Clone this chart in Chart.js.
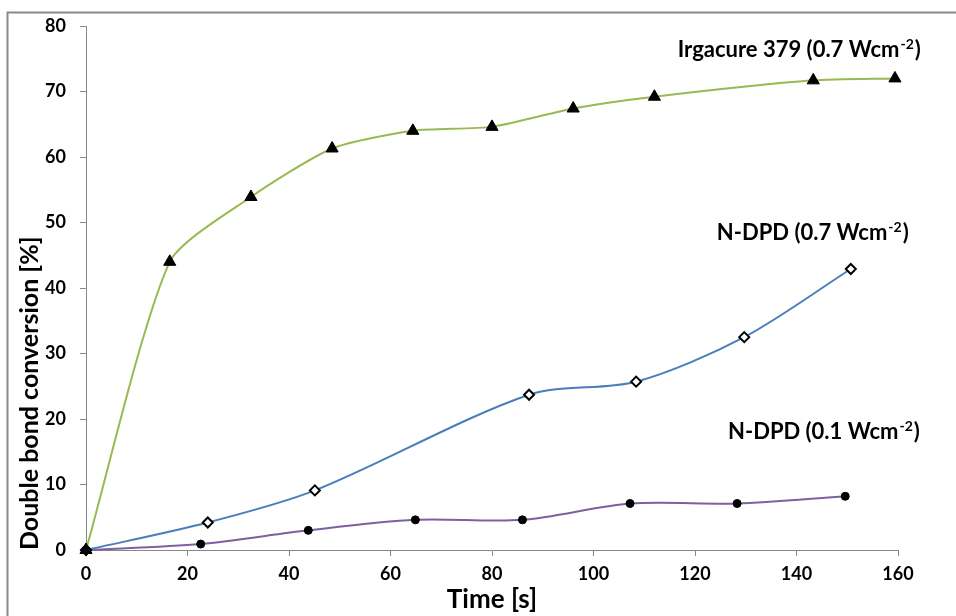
<!DOCTYPE html>
<html><head><meta charset="utf-8">
<script src="https://cdn.jsdelivr.net/npm/chart.js@4.4.1/dist/chart.umd.min.js"></script>
<style>html,body{margin:0;padding:0;background:#fff;}canvas{display:block;}</style>
</head><body>
<canvas id="c" width="956" height="616"></canvas>
<script>
// ---- data ----
const irgTime   = [0, 16.5, 32.5, 48.5, 64.4, 80, 96, 112, 143.3, 159.4];
const irgConv   = [0, 44.0, 53.9, 61.3, 64.0, 64.6, 67.4, 69.2, 71.7, 72.0];
const dpd07Time = [0, 24.0, 45.1, 87.3, 108.4, 129.7, 150.7];
const dpd07Conv = [0, 4.2, 9.1, 23.7, 25.7, 32.5, 42.9];
const dpd01Time = [0, 22.6, 43.8, 64.9, 86.0, 107.2, 128.3, 149.6];
const dpd01Conv = [0, 0.9, 3.0, 4.6, 4.6, 7.1, 7.1, 8.2];
const seriesNames = ['Irgacure 379 (0.7 Wcm', 'N-DPD (0.7 Wcm', 'N-DPD (0.1 Wcm'];
const unitSup = '-2';
const xTitle = 'Time [s]';
const yTitle = 'Double bond conversion [%]';
const xRange = [0, 160], xStep = 20;
const yRange = [0, 80], yStep = 10;

const pts = (xs, ys) => xs.map((x, i) => ({x, y: ys[i]}));
const FONT = 'Lato, "Open Sans", sans-serif';

// label anchors (data coordinates) for the in-plot series labels
const labelAnchors = [[116.6, 75.3], [124.3, 47.4], [126.5, 17.0]];

const framePlugin = {
  id: 'frame',
  beforeDraw(chart) {
    const ctx = chart.ctx;
    ctx.save();
    ctx.strokeStyle = '#8a8a8a';
    ctx.lineWidth = 2;
    ctx.beginPath();
    ctx.moveTo(7.5, 700); ctx.lineTo(7.5, 12.5); ctx.lineTo(960, 12.5);
    ctx.stroke();
    ctx.restore();
  }
};

const labelPlugin = {
  id: 'seriesLabels',
  afterDatasetsDraw(chart) {
    const {ctx, scales: {x, y}} = chart;
    ctx.save();
    ctx.fillStyle = '#000';
    ctx.textBaseline = 'alphabetic';
    ctx.textAlign = 'left';
    seriesNames.forEach((name, i) => {
      const px = x.getPixelForValue(labelAnchors[i][0]);
      const py = y.getPixelForValue(labelAnchors[i][1]);
      ctx.font = 'bold 22px ' + FONT;
      ctx.fillText(name, px, py);
      let w = ctx.measureText(name).width;
      ctx.font = 'bold 14px ' + FONT;
      ctx.fillText(unitSup, px + w + 1, py - 8);
      w += ctx.measureText(unitSup).width + 2;
      ctx.font = 'bold 22px ' + FONT;
      ctx.fillText(')', px + w, py);
    });
    ctx.restore();
  }
};

new Chart(document.getElementById('c'), {
  type: 'line',
  data: {
    datasets: [
      { label: seriesNames[0], data: pts(irgTime, irgConv), borderColor: '#98B954', borderWidth: 2, clip: false,
        pointStyle: 'triangle', pointRadius: 7, pointBackgroundColor: '#000', pointBorderColor: '#000', pointBorderWidth: 1, tension: 0.22 },
      { label: seriesNames[1], data: pts(dpd07Time, dpd07Conv), borderColor: '#4A7EBB', borderWidth: 2, clip: false,
        pointStyle: 'rectRot', pointRadius: 5, pointBackgroundColor: '#fff', pointBorderColor: '#000', pointBorderWidth: 2, tension: 0.3 },
      { label: seriesNames[2], data: pts(dpd01Time, dpd01Conv), borderColor: '#7D60A0', borderWidth: 2, clip: false,
        pointStyle: 'circle', pointRadius: 4, pointBackgroundColor: '#000', pointBorderColor: '#000', pointBorderWidth: 1, tension: 0.3 }
    ]
  },
  options: {
    responsive: false, animation: false, devicePixelRatio: 1,
    layout: { padding: { left: 0, top: 26, right: 58, bottom: 0 } },
    plugins: { legend: { display: false }, tooltip: { enabled: false } },
    scales: {
      x: {
        type: 'linear', min: xRange[0], max: xRange[1],
        afterFit: s => { s.height = 66; },
        ticks: { stepSize: xStep, color: '#000', font: { family: FONT, size: 18, weight: 'bold' }, padding: 7, maxRotation: 0 },
        grid: { drawOnChartArea: false, drawTicks: true, tickLength: 6, color: '#888' },
        border: { display: true, color: '#888', width: 1 },
        title: { display: true, text: xTitle, color: '#000', font: { family: FONT, size: 26, weight: 'bold' }, padding: { top: 0, bottom: 1 } }
      },
      y: {
        min: yRange[0], max: yRange[1],
        afterFit: s => { s.width = 86; },
        ticks: { stepSize: yStep, color: '#000', font: { family: FONT, size: 18, weight: 'bold' }, padding: 14 },
        grid: { drawOnChartArea: false, drawTicks: true, tickLength: 6, color: '#888' },
        border: { display: true, color: '#888', width: 1 },
        title: { display: true, text: yTitle, align: 'start', color: '#000', font: { family: FONT, size: 25, weight: 'bold' }, padding: { top: 15, bottom: 0 } }
      }
    }
  },
  plugins: [framePlugin, labelPlugin]
});
</script>
</body></html>
